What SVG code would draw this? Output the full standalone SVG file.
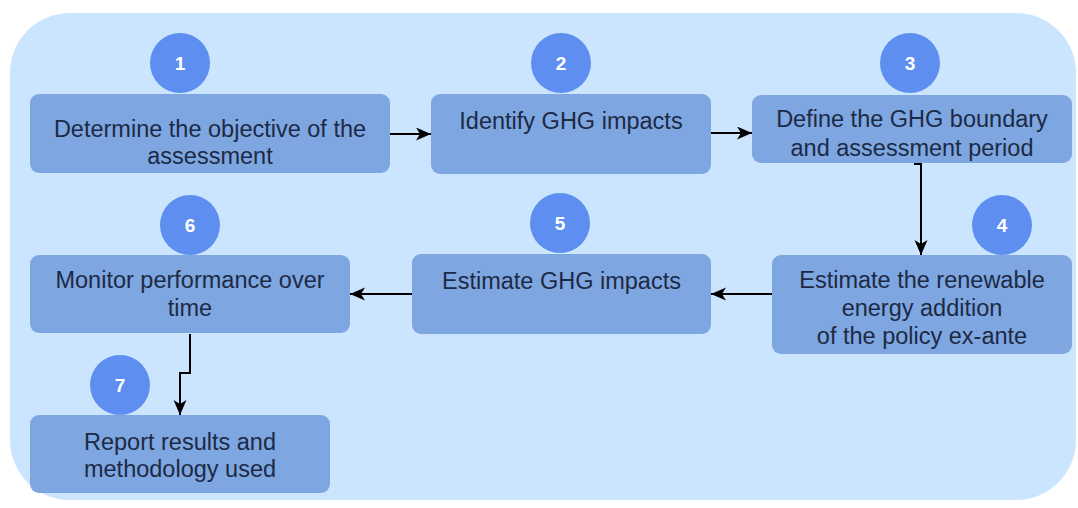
<svg xmlns="http://www.w3.org/2000/svg" width="1078" height="508" viewBox="0 0 1078 508">
<style>
.node rect{fill:#7ea6e0;}
.lbl{font-family:"Liberation Sans",Arial,sans-serif;font-size:23.5px;fill:#1d2a45;text-anchor:middle;}
.badge circle{fill:#5e8ff0;}
.num{font-family:"Liberation Sans",Arial,sans-serif;font-size:19px;font-weight:bold;fill:#ffffff;text-anchor:middle;}
.edge{fill:none;stroke:#000000;stroke-width:2;marker-end:url(#arr);}
</style>
<defs>
<marker id="arr" markerUnits="userSpaceOnUse" markerWidth="16" markerHeight="14" refX="15" refY="6.5" orient="auto">
<path d="M0,0 L15,6.5 L0,13 L4,6.5 Z" fill="#000000"/>
</marker>
</defs>
<rect x="10" y="13" width="1066" height="487" rx="60" ry="60" fill="#cce5ff"/>
<g id="connectors">
<path class="edge" d="M390,134 H431"/>
<path class="edge" d="M711,133 H752"/>
<path class="edge" d="M914,164 H921 V255"/>
<path class="edge" d="M772,294 H711"/>
<path class="edge" d="M412,294 H350"/>
<path class="edge" d="M190,334 V373 H180 V415"/>
</g>
<g id="node1" class="node">
<rect x="30" y="94" width="360" height="79" rx="9"/>
<text class="lbl" x="210" y="137">Determine the objective of the</text>
<text class="lbl" x="210" y="164">assessment</text>
</g>
<g id="node2" class="node">
<rect x="431" y="94" width="280" height="80" rx="9"/>
<text class="lbl" x="571" y="129">Identify GHG impacts</text>
</g>
<g id="node3" class="node">
<rect x="752" y="95" width="320" height="68" rx="9"/>
<text class="lbl" x="912" y="127">Define the GHG boundary</text>
<text class="lbl" x="912" y="156">and assessment period</text>
</g>
<g id="node4" class="node">
<rect x="772" y="255" width="300" height="99" rx="9"/>
<text class="lbl" x="922" y="288">Estimate the renewable</text>
<text class="lbl" x="922" y="316">energy addition</text>
<text class="lbl" x="922" y="344">of the policy ex-ante</text>
</g>
<g id="node5" class="node">
<rect x="412" y="254" width="299" height="80" rx="9"/>
<text class="lbl" x="561.5" y="289">Estimate GHG impacts</text>
</g>
<g id="node6" class="node">
<rect x="30" y="255" width="320" height="78" rx="9"/>
<text class="lbl" x="190" y="288">Monitor performance over</text>
<text class="lbl" x="190" y="316">time</text>
</g>
<g id="node7" class="node">
<rect x="30" y="415" width="300" height="78" rx="9"/>
<text class="lbl" x="180" y="450">Report results and</text>
<text class="lbl" x="180" y="477">methodology used</text>
</g>
<g id="badge1" class="badge"><circle cx="180" cy="63" r="30"/><text class="num" x="180" y="70">1</text></g>
<g id="badge2" class="badge"><circle cx="561" cy="63" r="30"/><text class="num" x="561" y="70">2</text></g>
<g id="badge3" class="badge"><circle cx="910" cy="63" r="30"/><text class="num" x="910" y="70">3</text></g>
<g id="badge4" class="badge"><circle cx="1002" cy="225" r="30"/><text class="num" x="1002" y="232">4</text></g>
<g id="badge5" class="badge"><circle cx="560" cy="223" r="30"/><text class="num" x="560" y="230">5</text></g>
<g id="badge6" class="badge"><circle cx="190" cy="225" r="30"/><text class="num" x="190" y="232">6</text></g>
<g id="badge7" class="badge"><circle cx="120" cy="385" r="30"/><text class="num" x="120" y="392">7</text></g>
</svg>
